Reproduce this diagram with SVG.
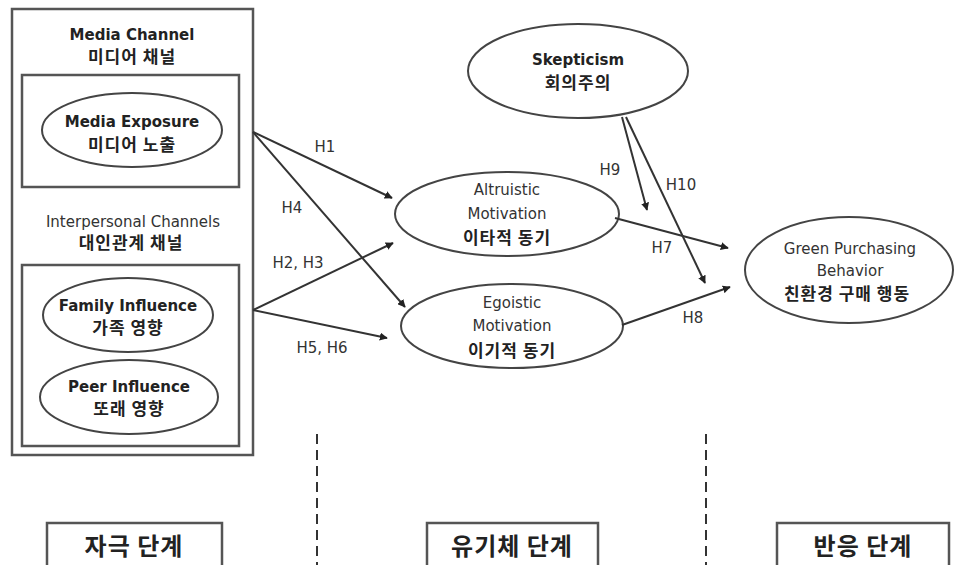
<svg xmlns="http://www.w3.org/2000/svg" width="954" height="565" viewBox="0 0 954 565">
<style>
.box{fill:none;stroke:#555;stroke-width:2.5}
.ell{fill:#fff;stroke:#444;stroke-width:2}
.en{font-family:"DejaVu Sans","Liberation Sans",sans-serif;font-size:15px;fill:#333;text-anchor:middle}
.enb{font-family:"DejaVu Sans","Liberation Sans",sans-serif;font-size:15px;font-weight:bold;fill:#222;text-anchor:middle}
.ko{font-family:"Noto Sans CJK KR",sans-serif;font-size:17px;font-weight:bold;fill:#222;text-anchor:middle;letter-spacing:1px}
.lab{font-family:"DejaVu Sans","Liberation Sans",sans-serif;font-size:15px;fill:#333;text-anchor:middle}
.con{stroke:#333;stroke-width:2;fill:none;marker-end:url(#ah)}
.dash{stroke:#333;stroke-width:2;stroke-dasharray:10,6;fill:none}
.stage{fill:#fff;stroke:#555;stroke-width:2.5}
.st{font-family:"Noto Sans CJK KR",sans-serif;font-size:24px;font-weight:bold;fill:#222;text-anchor:middle;letter-spacing:1px}
</style>
<defs>
<marker id="ah" viewBox="0 0 10 10" refX="9" refY="5" markerWidth="4" markerHeight="4" orient="auto" markerUnits="strokeWidth">
<path d="M0,0 L10,5 L0,10 z" fill="#222"/>
</marker>
</defs>
<rect width="954" height="565" fill="#fff"/>

<g id="stimulus-box">
<rect class="box" x="12" y="9" width="241" height="446"/>
</g>
<g id="media-channel">
<rect class="box" x="22" y="75" width="217" height="112"/>
<text class="enb" x="132" y="40">Media Channel</text>
<text class="ko" x="132" y="63">미디어 채널</text>
</g>
<g id="media-exposure">
<ellipse class="ell" cx="132" cy="130" rx="90" ry="37"/>
<text class="enb" x="132" y="127">Media Exposure</text>
<text class="ko" x="132" y="151">미디어 노출</text>
</g>
<g id="interpersonal-channels">
<rect class="box" x="22" y="265" width="217" height="181"/>
<text class="en" x="133" y="227">Interpersonal Channels</text>
<text class="ko" x="131" y="249">대인관계 채널</text>
</g>
<g id="family-influence">
<ellipse class="ell" cx="128" cy="315" rx="85" ry="37"/>
<text class="enb" x="128" y="311">Family Influence</text>
<text class="ko" x="128" y="334">가족 영향</text>
</g>
<g id="peer-influence">
<ellipse class="ell" cx="129" cy="397" rx="89" ry="37"/>
<text class="enb" x="129" y="392">Peer Influence</text>
<text class="ko" x="129" y="415">또래 영향</text>
</g>
<g id="skepticism">
<ellipse class="ell" cx="578" cy="71" rx="110" ry="47"/>
<text class="enb" x="578" y="65">Skepticism</text>
<text class="ko" x="578" y="89">회의주의</text>
</g>
<g id="altruistic">
<ellipse class="ell" cx="507" cy="214" rx="112" ry="42"/>
<text class="en" x="507" y="195">Altruistic</text>
<text class="en" x="507" y="219">Motivation</text>
<text class="ko" x="507" y="244">이타적 동기</text>
</g>
<g id="egoistic">
<ellipse class="ell" cx="512" cy="326" rx="111" ry="42"/>
<text class="en" x="512" y="308">Egoistic</text>
<text class="en" x="512" y="331">Motivation</text>
<text class="ko" x="512" y="357">이기적 동기</text>
</g>
<g id="green-purchasing">
<ellipse class="ell" cx="849" cy="270" rx="104" ry="53"/>
<text class="en" x="850" y="254">Green Purchasing</text>
<text class="en" x="850" y="276">Behavior</text>
<text class="ko" x="847" y="300">친환경 구매 행동</text>
</g>

<g id="connectors">
<line class="con" x1="253" y1="132" x2="392" y2="198"/>
<line class="con" x1="253" y1="132" x2="405" y2="307"/>
<line class="con" x1="253" y1="310" x2="393" y2="243"/>
<line class="con" x1="253" y1="310" x2="387" y2="338"/>
<line class="con" x1="615" y1="218" x2="728" y2="248"/>
<line class="con" x1="622" y1="325" x2="730" y2="287"/>
<line class="con" x1="622" y1="117" x2="647" y2="210"/>
<line class="con" x1="626" y1="117" x2="705" y2="283"/>
<text class="lab" x="325" y="152">H1</text>
<text class="lab" x="292" y="213">H4</text>
<text class="lab" x="298" y="268">H2, H3</text>
<text class="lab" x="322" y="353">H5, H6</text>
<text class="lab" x="610" y="175">H9</text>
<text class="lab" x="681" y="190">H10</text>
<text class="lab" x="662" y="253">H7</text>
<text class="lab" x="693" y="323">H8</text>
</g>

<g id="dividers">
<line class="dash" x1="317" y1="434" x2="317" y2="565"/>
<line class="dash" x1="706" y1="434" x2="706" y2="565"/>
</g>
<g id="stage-stimulus">
<rect class="stage" x="47" y="523" width="175" height="48"/>
<text class="st" x="134" y="555">자극 단계</text>
</g>
<g id="stage-organism">
<rect class="stage" x="427" y="523" width="171" height="48"/>
<text class="st" x="512" y="555">유기체 단계</text>
</g>
<g id="stage-response">
<rect class="stage" x="777" y="523" width="172" height="48"/>
<text class="st" x="863" y="555">반응 단계</text>
</g>
</svg>
